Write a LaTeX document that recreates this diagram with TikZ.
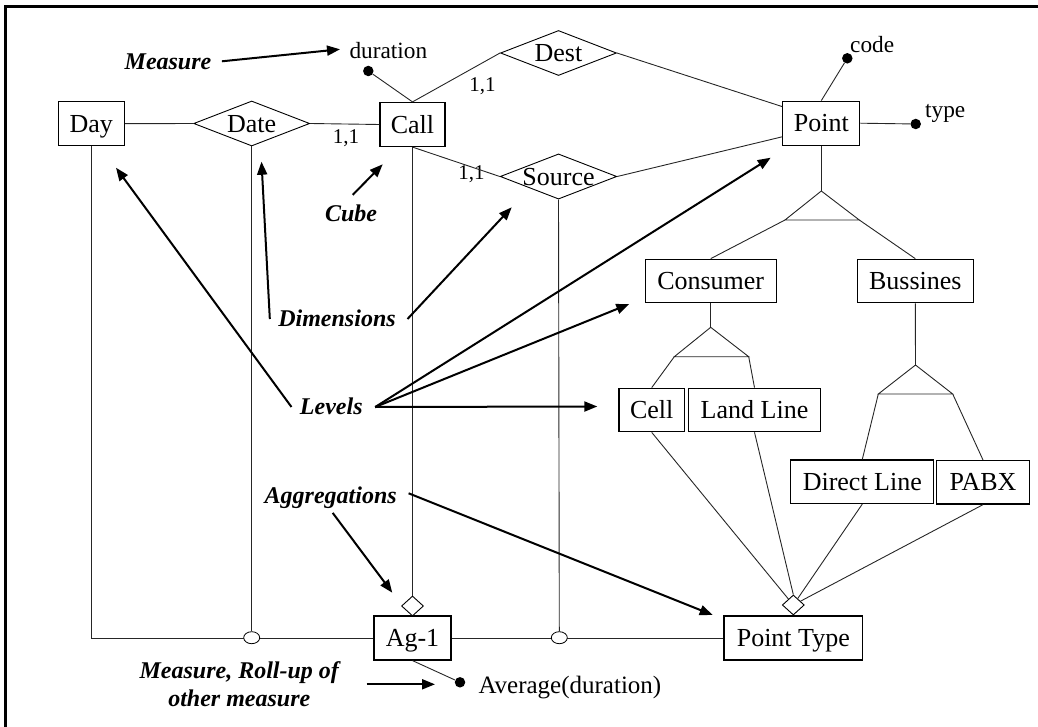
\documentclass[tikz,border=0pt]{standalone}
\usepackage{fontspec}
\setmainfont{Liberation Serif}
\usetikzlibrary{shapes.geometric,arrows.meta,calc}
\begin{document}
\begin{tikzpicture}[x=1pt,y=-1pt,
  ent/.style={draw, line width=1.2pt, inner sep=0pt, font=\fontsize{26}{30}\selectfont, text height=17.2pt, text depth=0pt},
  rel/.style={draw, diamond, line width=0.9pt, inner sep=0pt, aspect=2.58, minimum width=116pt, minimum height=45pt, font=\fontsize{26}{30}\selectfont, text height=17.2pt, text depth=0pt},
  aggd/.style={draw, diamond, line width=0.9pt, inner sep=0pt, minimum width=22pt, minimum height=20pt, fill=white},
  ring/.style={draw, ellipse, fill=white, inner sep=0pt, minimum width=16pt, minimum height=12pt, line width=0.8pt},
  dot/.style={circle, fill=black, inner sep=0pt, minimum size=10.5pt},
  att/.style={inner sep=0pt, font=\fontsize{23.3}{27}\selectfont, text height=15.4pt, text depth=0pt},
  card/.style={inner sep=0pt, font=\fontsize{21}{25}\selectfont},
  lab/.style={inner sep=0pt, font=\fontsize{24}{28.4}\selectfont\bfseries\itshape, text height=15.8pt, text depth=0pt},
  labtwo/.style={inner sep=0pt, font=\fontsize{24}{28.4}\selectfont\bfseries\itshape},
  ln/.style={line width=0.9pt, black!85},
  arr/.style={line width=2pt, -{Triangle[length=13pt,width=10pt]}}
]
\useasboundingbox (0,0) rectangle (1038,727);
\clip (0,0) rectangle (1038,727);
\draw[line width=3pt] (5.5,6.5) rectangle (1060,760);

% entities and relationships
\node[ent, minimum width=66pt, minimum height=44pt] (day) at (91.3,123.7) {Day};
\node[rel] (date) at (251.7,123.5) {Date};
\node[ent, minimum width=65pt, minimum height=44pt] (call) at (412.5,124.5) {Call};
\node[rel] (dest) at (558.5,53) {Dest};
\node[rel] (source) at (558.5,176.5) {Source};
\node[ent, minimum width=77pt, minimum height=44pt] (point) at (821.3,123.2) {Point};
\node[ent, minimum width=131pt, minimum height=43.5pt] (consumer) at (710.7,281) {Consumer};
\node[ent, minimum width=116pt, minimum height=43.5pt] (bussines) at (915.3,281) {Bussines};
\node[ent, minimum width=65.3pt, minimum height=43.5pt] (cell) at (651.7,410) {Cell};
\node[ent, minimum width=131.6pt, minimum height=43.5pt] (landline) at (754.5,410) {Land Line};
\node[ent, minimum width=143pt, minimum height=43.5pt] (directline) at (862.3,481.7) {Direct Line};
\node[ent, minimum width=92.6pt, minimum height=43.5pt] (pabx) at (983,482.3) {PABX};
\node[ent, minimum width=138.7pt, minimum height=44pt] (pointtype) at (793.3,638) {Point Type};
\node[ent, minimum width=77pt, minimum height=44pt] (ag1) at (412.5,638) {Ag-1};

% ISA triangles
\coordinate (t1a) at (821.3,191);
\coordinate (t1l) at (785,220);
\coordinate (t1r) at (859.3,220);
\coordinate (t2a) at (710.7,327.3);
\coordinate (t2l) at (674.3,356.7);
\coordinate (t2r) at (748.7,356.7);
\coordinate (t3a) at (915.5,365);
\coordinate (t3l) at (878.3,394);
\coordinate (t3r) at (952.7,394);

% attribute dots
\node[dot] (durdot) at (368.3,71) {};
\node[dot] (codedot) at (847.3,58.3) {};
\node[dot] (typedot) at (915.7,124) {};
\node[dot] (avgdot) at (460,682.3) {};

% attribute texts
\node[att, anchor=base west] (dur) at (349.3,58.3) {duration};
\node[att, anchor=base west] (code) at (850,52.7) {code};
\node[att, anchor=base west] (type) at (925,117.3) {type};
\node[att, font=\fontsize{25}{29}\selectfont, anchor=base west] (avg) at (478.3,693.3) {Average(duration)};

% cardinalities
\node[card, anchor=base] (k1) at (346,143.3) {1,1};
\node[card, anchor=base] (k2) at (482.5,91.7) {1,1};
\node[card, anchor=base] (k3) at (471.5,180) {1,1};

% connectors
\draw[ln] (day.east) -- (date.west);
\draw[ln] (date.east) -- (call.west);
\draw[ln] (call.north) -- (dest.west);
\draw[ln] (call.north) -- (durdot);
\draw[ln] (call.south) -- (source.west);
\draw[ln] (dest.east) -- ($(point.north west)+(0,6)$);
\draw[ln] (source.east) -- ($(point.south west)+(0,-9)$);
\draw[ln] (point.north) -- (codedot);
\draw[ln] (point.east) -- (typedot);
\draw[ln] (point.south) -- (t1a);
\draw[ln] (t1a) -- (t1l) -- (t1r) -- cycle;
\draw[ln] (t1l) -- (consumer.north);
\draw[ln] (t1r) -- (bussines.north);
\draw[ln] (consumer.south) -- (t2a);
\draw[ln] (t2a) -- (t2l) -- (t2r) -- cycle;
\draw[ln] (t2l) -- (cell.north);
\draw[ln] (t2r) -- (landline.north);
\draw[ln] (bussines.south) -- (t3a);
\draw[ln] (t3a) -- (t3l) -- (t3r) -- cycle;
\draw[ln] (t3l) -- (directline.north);
\draw[ln] (t3r) -- (pabx.north);

\draw[ln] (day.south) |- (ag1.west);
\draw[ln] (ag1.east) -- (pointtype.west);
\draw[ln] (ag1.south) -- (avgdot);

\node[aggd] (aggpt) at (793.3,605) {};
\node[aggd] (aggag) at (412.5,606) {};
\node[ring] (r1) at (251.7,637.7) {};
\node[ring] (r2) at (559.3,637.7) {};

\draw[ln] (date.south) -- (r1.north);
\draw[ln] (source.south) -- (r2.north);
\draw[ln] (call.south) -- (aggag.north);
\draw[ln] (cell.south) -- (aggpt);
\draw[ln] (landline.south) -- (aggpt.north);
\draw[ln] (directline.south) -- (aggpt);
\draw[ln] (pabx.south) -- (aggpt);

% annotation labels
\node[lab] (meas) at (168,61.3) {Measure};
\node[lab] (cube) at (351,214) {Cube};
\node[lab] (dims) at (337,319) {Dimensions};
\node[lab] (lev) at (331.3,407) {Levels};
\node[lab] (aggs) at (330.7,495.3) {Aggregations};
\node[labtwo, anchor=base] (roll) at (239.3,678.3) {\begin{tabular}[t]{@{}c@{}}Measure, Roll-up of\\other measure\end{tabular}};

% arrow tips
\coordinate (tipDur) at (340,49.3);
\coordinate (tipCall) at (382.7,164.3);
\coordinate (tipDate) at (261.5,161.7);
\coordinate (tipSource) at (511.7,207.3);
\coordinate (tipDay) at (116,167.7);
\coordinate (tipPoint) at (770.7,157.7);
\coordinate (tipCons) at (629.3,304);
\coordinate (tipCell) at (597.3,406.5);
\coordinate (tipAgg) at (392.3,592.7);
\coordinate (tipPT) at (712.7,615);
\coordinate (tipAvg) at (435,684.3);
\coordinate (rollstart) at (366.7,684.3);

\draw[arr] ([xshift=10.4pt]meas.east) -- (tipDur);
\draw[arr] ([xshift=1.7pt,yshift=11pt]cube.north) -- (tipCall);
\draw[arr] ([xshift=-8.3pt]dims.west) -- (tipDate);
\draw[arr] ([xshift=11.6pt]dims.east) -- (tipSource);
\draw[arr] ([xshift=-8.3pt]lev.west) -- (tipDay);
\draw[arr] ([xshift=12.4pt]lev.east) -- (tipPoint);
\draw[arr] ([xshift=12.4pt]lev.east) -- (tipCons);
\draw[arr] ([xshift=12.4pt]lev.east) -- (tipCell);
\draw[arr] ([xshift=2pt,yshift=-9.5pt]aggs.south) -- (tipAgg);
\draw[arr] ([xshift=11.7pt,yshift=2pt]aggs.east) -- (tipPT);
\draw[arr] (rollstart) -- (tipAvg);
\end{tikzpicture}
\end{document}
